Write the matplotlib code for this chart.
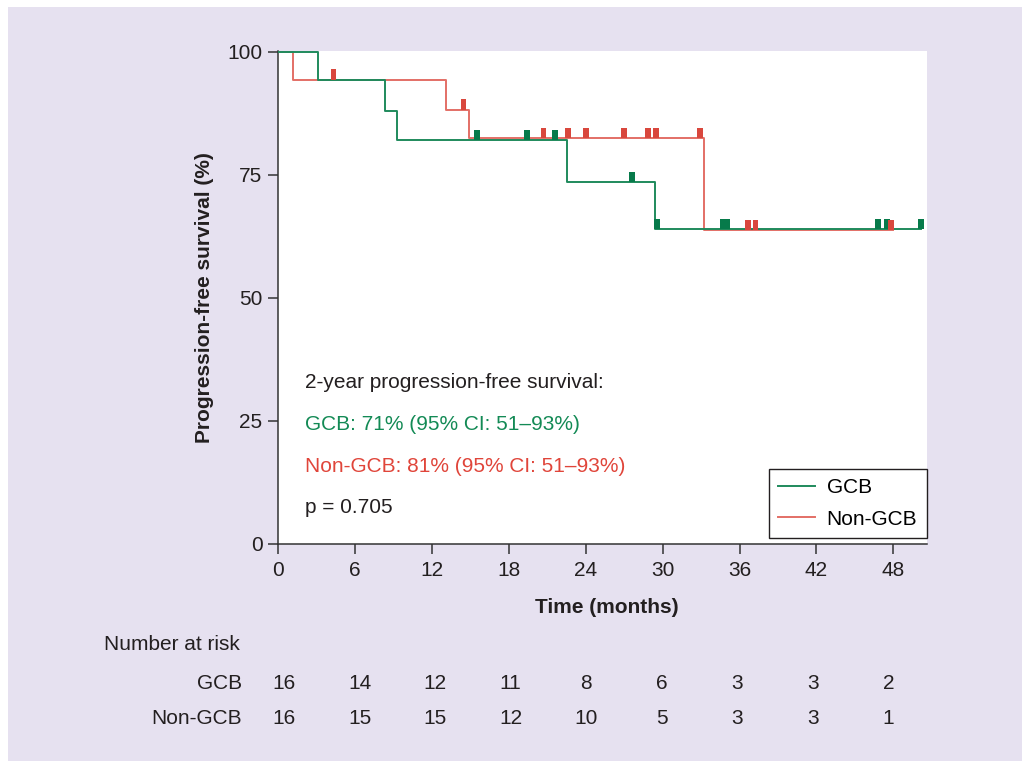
import numpy as np
import matplotlib.pyplot as plt
from matplotlib.patches import Rectangle
import matplotlib.transforms as mtransforms

plt.rcParams['font.family'] = ['Liberation Sans', 'DejaVu Sans']

# -------------------------------
# data
# -------------------------------
gcb_t = [0, 3.1, 8.3, 9.24, 22.5, 29.4, 50.15]
gcb_s = [100, 94.3, 87.9, 82.0, 73.5, 64.0, 64.0]
gcb_cens = [15.5, 19.4, 21.6, 27.6, 29.55, 34.7, 35.0, 46.8, 47.5, 50.15]

ngcb_t = [0, 1.16, 13.1, 14.9, 33.2, 48.0]
ngcb_s = [100, 94.4, 88.3, 82.5, 63.8, 63.8]
ngcb_cens = [4.3, 14.45, 20.7, 22.6, 24.0, 27.0, 28.85, 29.45, 32.9, 36.65, 37.25, 47.8]

risk_times = [0, 6, 12, 18, 24, 30, 36, 42, 48]
risk_gcb = [16, 14, 12, 11, 8, 6, 3, 3, 2]
risk_ngcb = [16, 15, 15, 12, 10, 5, 3, 3, 1]

green_line = '#1f8a5c'
green_mark = '#077a4a'
red_line = '#e36f66'
red_mark = '#d9473d'
txt = '#231f20'


def surv_at(times, surv, t):
    idx = np.searchsorted(times, t, side='right') - 1
    return np.asarray(surv)[idx]


fig = plt.figure(figsize=(10.22, 7.61), dpi=100)
fig.patch.set_facecolor('white')
fig.patches.append(Rectangle((8 / 1022, 0), 1, 1 - 7 / 761, transform=fig.transFigure,
                             facecolor='#e6e1f0', edgecolor='none', zorder=-10))

ax = fig.add_axes([0.2724, 0.2855, 0.6343, 0.6475])
ax.set_facecolor('white')

# curves
ax.step(gcb_t, gcb_s, where='post', color=green_line, lw=1.4, label='GCB', zorder=3)
ax.step(ngcb_t, ngcb_s, where='post', color=red_line, lw=1.4, label='Non-GCB', zorder=2)

# censor marks
ax.bar(gcb_cens, 2.1, bottom=surv_at(gcb_t, gcb_s, gcb_cens), width=0.45,
       color=green_mark, zorder=4)
ax.bar(ngcb_cens, 2.1, bottom=surv_at(ngcb_t, ngcb_s, ngcb_cens), width=0.45,
       color=red_mark, zorder=4)

ax.set_xlim(0, 50.6)
ax.set_ylim(0, 100.2)
ax.set_xticks(risk_times)
ax.set_yticks([0, 25, 50, 75, 100])

for s in ['top', 'right']:
    ax.spines[s].set_visible(False)
for s in ['left', 'bottom']:
    ax.spines[s].set_color('#333333')
    ax.spines[s].set_linewidth(1.1)
ax.tick_params(axis='both', length=7.5, width=1.1, color='#333333',
               labelsize=15, labelcolor=txt)
ax.tick_params(axis='x', pad=5)
ax.tick_params(axis='y', pad=4)

ax.set_xlabel('Time (months)', fontsize=15, fontweight='bold', color=txt)
ax.set_ylabel('Progression-free survival (%)', fontsize=15, fontweight='bold', color=txt)
ax.xaxis.set_label_coords(0.506, -0.11)
ax.yaxis.set_label_coords(-0.1, 0.5)

# annotations
ax.text(2.08, 32.85, '2-year progression-free survival:', fontsize=15, color=txt, va='center')
ax.text(2.08, 24.3, 'GCB: 71% (95% CI: 51\u201393%)', fontsize=15, color='#138a55', va='center')
ax.text(2.08, 15.8, 'Non-GCB: 81% (95% CI: 51\u201393%)', fontsize=15, color='#e0453a', va='center')
ax.text(2.08, 7.45, 'p = 0.705', fontsize=15, color=txt, va='center')

leg = ax.legend(loc='lower right', bbox_to_anchor=(1.0, 0.0116), borderaxespad=0,
                fontsize=15, fancybox=False, framealpha=1, edgecolor='#231f20',
                handlelength=1.75, handletextpad=0.57, labelspacing=0.6,
                borderpad=0.45)
leg.get_frame().set_linewidth(1.0)

# number at risk table (columns slightly tighter than the axis ticks)
trans = mtransforms.blended_transform_factory(ax.transData, fig.transFigure)
fig.text(0.1018, 0.1537, 'Number at risk', fontsize=15, color=txt, va='center', ha='left')
fig.text(0.2368, 0.1012, 'GCB', fontsize=15, color=txt, va='center', ha='right')
fig.text(0.2368, 0.0565, 'Non-GCB', fontsize=15, color=txt, va='center', ha='right')
for t, a, b in zip(risk_times, risk_gcb, risk_ngcb):
    xpos = 0.44 + 0.983 * t
    ax.text(xpos, 0.1012, str(a), transform=trans, fontsize=15, color=txt,
            ha='center', va='center', clip_on=False)
    ax.text(xpos, 0.0565, str(b), transform=trans, fontsize=15, color=txt,
            ha='center', va='center', clip_on=False)

fig.savefig('out.png', dpi=100, facecolor=fig.get_facecolor())
